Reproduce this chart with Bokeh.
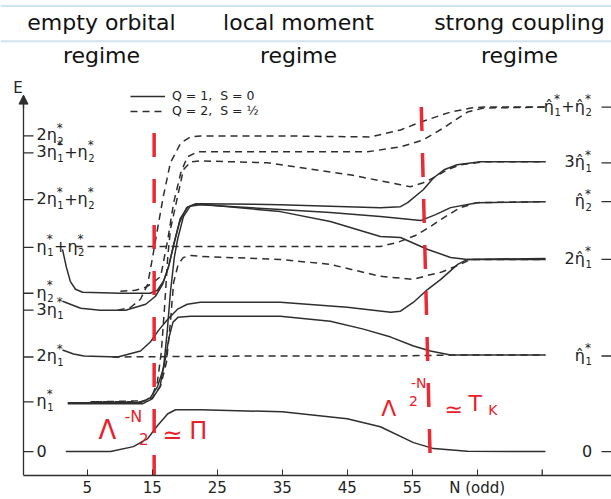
from bokeh.plotting import figure
from bokeh.models import (Range1d, FixedTicker, LinearAxis, Arrow, NormalHead,
                          ColumnDataSource, Legend, LegendItem, Span)
from bokeh.core.properties import value
from bokeh.embed import file_html
from bokeh.resources import INLINE

# ---------------- data ----------------
n_ticks = [5, 15, 25, 35, 45, 55, 65]
n_tick_text = {65: "N (odd)"}
n_extra_ticks = [75]

left_levels = [0.0, 5.0, 9.5, 14.2, 15.9, 20.5, 25.3, 30.0, 31.7]
left_terms = [[], [("", "1")], [("2", "1")], [("3", "1")], [("", "2")],
              [("", "1"), ("", "2")], [("2", "1"), ("", "2")],
              [("3", "1"), ("", "2")], [("2", "2")]]
right_levels = [0.0, 9.6, 19.3, 25.1, 29.0, 34.6]
right_terms = [[], [("", "1")], [("2", "1")], [("", "2")], [("3", "1")],
               [("", "1"), ("", "2")]]

regimes = ["empty orbital", "local moment", "strong coupling"]
regime_n = [7.2, 37.5, 71.5]

# Q=1, S=0 (solid)
s1_n = [1.7, 8.6, 12.1, 14.3, 15.8, 17.4, 18.6, 22.4, 35.0, 45.0, 50.1, 55.2, 58.3, 63.5, 75.5]
s1_e = [0.0, 0.0, 0.5, 1.3, 2.6, 3.8, 4.2, 4.2, 4.0, 3.3, 2.5, 0.9, 0.3, 0.03, 0.0]
s2_n = [2.0, 13.2, 14.7, 15.8, 16.8, 17.6, 18.2, 19.0, 20.9, 34.7, 42.4, 47.5, 51.7, 55.2, 57.8, 60.9, 75.5]
s2_e = [4.9, 4.9, 5.4, 6.5, 8.5, 11.5, 13.0, 13.5, 13.6, 13.6, 13.1, 12.3, 11.5, 10.6, 10.1, 9.7, 9.7]
s3_n = [2.0, 13.5, 15.0, 16.2, 16.8, 17.3, 17.8, 18.4, 18.9, 19.8, 20.9, 22.4, 34.7, 50.1, 53.2, 54.3, 56.7, 58.3, 59.9, 61.9, 65.5, 75.5]
s3_e = [4.8, 4.8, 5.3, 6.5, 8.8, 12.0, 16.0, 19.5, 21.3, 23.6, 24.7, 24.9, 24.8, 24.5, 24.6, 25.0, 26.3, 27.5, 28.3, 28.8, 29.1, 29.1]
s4_n = [1.2, 2.9, 4.5, 9.7, 13.2, 14.7, 16.0, 17.4, 18.9, 20.4, 22.4, 34.7, 45.0, 51.7, 53.2, 55.2, 57.4, 59.4, 62.0, 63.5, 75.5]
s4_e = [10.2, 9.8, 9.6, 9.5, 10.1, 11.0, 12.2, 13.3, 14.3, 14.8, 15.0, 15.0, 14.5, 14.0, 14.1, 15.0, 16.3, 17.3, 18.8, 19.3, 19.4]
s5_n = [1.2, 4.0, 7.0, 10.9, 14.0, 15.5, 16.6, 17.5, 18.3, 19.2, 20.3, 21.7, 34.7, 42.4, 50.1, 53.2, 57.4, 60.9, 63.5, 75.5]
s5_e = [15.1, 14.4, 14.2, 14.2, 14.8, 15.6, 16.8, 18.5, 20.8, 23.0, 24.5, 24.9, 24.1, 23.1, 21.6, 21.5, 20.3, 19.5, 19.3, 19.3]
s6_n = [1.2, 1.8, 2.4, 3.2, 4.3, 10.1, 14.7, 15.8, 16.8, 17.6, 18.4, 19.3, 20.5, 22.4, 34.7, 42.4, 50.1, 53.2, 56.3, 58.6, 60.9, 65.0, 75.5]
s6_e = [20.3, 18.5, 17.1, 16.3, 16.0, 15.9, 15.9, 16.2, 17.2, 18.8, 21.0, 23.4, 24.6, 24.8, 24.3, 24.0, 23.6, 23.4, 23.2, 23.8, 24.5, 25.0, 25.1]

# Q=2, S=1/2 (dashed)
d1_n = [8.9, 30.0, 53.2, 60.9, 75.5]
d1_e = [9.5, 9.6, 9.6, 9.7, 9.7]
d2_n = [3.2, 30.0, 50.1, 52.7, 55.5, 57.8, 60.1, 62.4, 65.0, 75.5]
d2_e = [20.6, 20.6, 20.6, 21.0, 21.7, 22.6, 23.6, 24.5, 25.0, 25.1]
d3_n = [5.5, 13.2, 15.0, 16.3, 17.2, 17.8, 18.3, 19.0, 19.8, 21.0, 22.4, 34.7, 42.4, 50.1, 55.2, 57.4, 59.4, 62.4, 64.0, 75.5]
d3_e = [5.0, 5.0, 5.4, 6.6, 9.0, 13.0, 17.0, 18.8, 19.5, 19.7, 19.6, 19.3, 18.8, 17.6, 17.3, 17.7, 18.0, 18.8, 19.3, 19.3]
d4_n = [9.7, 11.7, 13.2, 14.3, 15.0, 15.8, 16.7, 17.8, 19.4, 20.9, 22.4, 34.7, 48.6, 53.2, 56.3, 60.9, 64.0, 66.0, 75.5]
d4_e = [14.2, 14.5, 15.3, 16.8, 19.3, 22.3, 25.6, 29.0, 31.0, 31.6, 31.7, 31.7, 31.6, 32.3, 33.1, 34.1, 34.5, 34.6, 34.6]
d5_n = [10.1, 12.4, 14.0, 15.2, 16.3, 17.4, 18.3, 19.4, 20.4, 22.0, 34.7, 48.1, 53.2, 56.7, 59.8, 63.5, 66.0, 75.5]
d5_e = [16.1, 16.2, 16.5, 17.0, 17.6, 21.3, 25.0, 28.0, 29.6, 30.1, 30.1, 30.1, 30.6, 31.3, 32.5, 34.1, 34.5, 34.6]
d6_n = [6.2, 13.9, 15.0, 15.8, 16.4, 16.9, 17.4, 17.8, 18.9, 19.8, 20.9, 22.4, 32.7, 45.4, 53.2, 54.7, 56.7, 58.3, 60.4, 62.4, 66.0, 75.5]
d6_e = [5.0, 5.1, 5.6, 7.0, 10.0, 14.5, 19.6, 22.3, 25.6, 28.3, 29.1, 29.2, 29.0, 27.8, 26.8, 26.6, 27.0, 27.5, 28.3, 28.8, 29.1, 29.1]

solid_curves = [(s1_n, s1_e), (s2_n, s2_e), (s3_n, s3_e), (s4_n, s4_e), (s5_n, s5_e), (s6_n, s6_e)]
dashed_curves = [(d1_n, d1_e), (d2_n, d2_e), (d3_n, d3_e), (d4_n, d4_e), (d5_n, d5_e), (d6_n, d6_e)]

# red hand annotations: crossover scales
red_line_n = [(15.3, 15.3), (56.4, 57.8)]
red_line_e = [(32.0, -2.7), (34.6, -1.7)]

# ---------------- geometry / style ----------------
INK = "#2e2e2e"
RED = "#e8202a"
FONT = value("DejaVu Sans")
N0 = -4.8            # energy axis position
E_BOT, E_TOP = -2.4, 45.3
N_LEFT, N_RIGHT = -8.34, 85.66
TICK = 10 / 6.5      # 10 px in N units

p = figure(width=611, height=499, output_backend="svg", toolbar_location=None,
           x_range=Range1d(N_LEFT, N_RIGHT), y_range=Range1d(E_BOT, E_TOP),
           x_axis_location=None, y_axis_location=None,
           min_border_left=0, min_border_right=0, min_border_top=0, min_border_bottom=21)
p.grid.visible = False
p.outline_line_color = None
p.background_fill_color = "white"
p.border_fill_color = "white"

xaxis = LinearAxis(ticker=FixedTicker(ticks=n_ticks), major_label_overrides=n_tick_text,
                   bounds=(N0, N_RIGHT),
                   major_tick_in=6, major_tick_out=0, minor_tick_line_color=None,
                   axis_line_color=INK, major_tick_line_color=INK, axis_line_width=1.3,
                   major_label_text_font_size="15px", major_label_standoff=3,
                   axis_label_standoff=0,
                   major_label_text_font="DejaVu Sans", major_label_text_color="#222")
p.add_layout(xaxis, "below")

yaxis = LinearAxis(ticker=FixedTicker(ticks=[]), fixed_location=N0, bounds=(E_BOT, 35.6),
                   major_tick_in=0, major_tick_out=0, minor_tick_line_color=None,
                   axis_line_color=INK, axis_line_width=1.3,
                   major_label_standoff=0, axis_label_standoff=0)
p.add_layout(yaxis, "left")

# tick marks on the energy axes
p.segment(x0=[N0] * len(left_levels), y0=left_levels, x1=[N0 + TICK] * len(left_levels),
          y1=left_levels, line_color=INK, line_width=1.3)
p.segment(x0=[N_RIGHT - TICK] * len(right_levels), y0=right_levels,
          x1=[N_RIGHT] * len(right_levels), y1=right_levels, line_color=INK, line_width=1.3)
p.segment(x0=n_extra_ticks, y0=[E_BOT] * len(n_extra_ticks), x1=n_extra_ticks,
          y1=[E_BOT + 0.6] * len(n_extra_ticks), line_color=INK, line_width=1.3)

p.add_layout(Arrow(end=NormalHead(size=9, fill_color=INK, line_color=INK),
                   x_start=N0, y_start=34.5, x_end=N0, y_end=35.8,
                   line_color=INK, line_width=1.3))
p.text(x=[N0 - 0.85], y=[36.5], text=["E"], text_font=FONT, text_font_size="15px",
       text_align="center", text_baseline="middle", text_color="#222")

# header band
p.add_layout(Span(location=44.75, dimension="width", line_color="#cfe3f1", line_width=2))
p.add_layout(Span(location=41.2, dimension="width", line_color="#cfe3f1", line_width=2))
p.text(x=regime_n, y=[43.1] * 3, text=regimes, text_font=FONT, text_font_size="22px",
       text_align="center", text_baseline="middle", text_color="#111")
p.text(x=regime_n, y=[39.8] * 3, text=["regime"] * 3, text_font=FONT, text_font_size="22px",
       text_align="center", text_baseline="middle", text_color="#111")

# curves
solid_r = []
for cn, ce in solid_curves:
    solid_r.append(p.line(cn, ce, line_color=INK, line_width=1.5))
dashed_r = []
for cn, ce in dashed_curves:
    dashed_r.append(p.line(cn, ce, line_color=INK, line_width=1.5, line_dash="7 5"))

legend = Legend(items=[LegendItem(label="Q = 1,  S = 0", renderers=[solid_r[0]]),
                       LegendItem(label="Q = 2,  S = \u00bd", renderers=[dashed_r[0]])],
                location=(130, 357), padding=0, margin=0, border_line_color=None,
                background_fill_alpha=0, glyph_width=35, glyph_height=12, label_height=12,
                label_standoff=7, spacing=0, label_text_font_size="12.5px",
                label_text_font="DejaVu Sans", label_text_color="#222")
p.add_layout(legend)

# level labels built from pieces (base, star superscript, index subscript)
FS, SFS = 16, 10
def compose(terms, hat):
    pcs = []
    if not terms:
        return [("0", 0.0, -1, FS)], 0.636 * FS
    x = 0.0
    for i, (coef, sub) in enumerate(terms):
        if i > 0:
            pcs.append(("+", x, -1, FS))
            x += 0.838 * FS
        base = coef + ("\u03b7\u0302" if hat else "\u03b7")
        pcs.append((base, x, -1, FS))
        x += (0.636 * len(coef) + 0.634) * FS
        pcs.append(("*", x, -8, 12))
        pcs.append((sub, x + 0.5, 5, SFS))
        x += 0.636 * SFS + 1
    return pcs, x

def label_source(levels, terms, x0, hat, right):
    d = dict(x=[], y=[], text=[], dx=[], dy=[], fs=[])
    for lev, t in zip(levels, terms):
        pcs, w = compose(t, hat)
        for txt, dx, dy, fs in pcs:
            d["x"].append(x0); d["y"].append(lev); d["text"].append(txt)
            d["dx"].append(dx - (w if right else 0)); d["dy"].append(dy)
            d["fs"].append(f"{fs}px")
    return ColumnDataSource(d)

for src in (label_source(left_levels, left_terms, -2.8, False, False),
            label_source(right_levels, right_terms, 82.7, True, True)):
    p.text(x="x", y="y", text="text", x_offset="dx", y_offset="dy", text_font_size="fs",
           source=src, text_font=FONT, text_align="left", text_baseline="middle",
           text_color="#222")

# red annotations
for rn, re_ in zip(red_line_n, red_line_e):
    p.line(list(rn), list(re_), line_color=RED, line_width=3.5, line_dash="24 22", line_alpha=0.95)

red_src = ColumnDataSource(dict(
    x=[8.1, 12.1, 13.7, 18.1, 22.1, 51.4, 56.0, 55.2, 61.4, 64.7, 67.4],
    y=[2.2, 3.5, 1.3, 1.7, 2.1, 4.3, 6.9, 5.1, 4.2, 4.8, 4.2],
    text=["\u039b", "-N", "2", "\u2243", "\u03a0", "\u039b", "-N", "2", "\u2243", "T", "K"],
    fs=["26px", "16px", "15px", "24px", "24px", "22px", "14px", "14px", "22px", "22px", "14px"]))
p.text(x="x", y="y", text="text", text_font_size="fs", source=red_src, text_font=FONT,
       text_align="center", text_baseline="middle", text_color=RED)

open("out.html", "w").write(file_html(p, INLINE))
